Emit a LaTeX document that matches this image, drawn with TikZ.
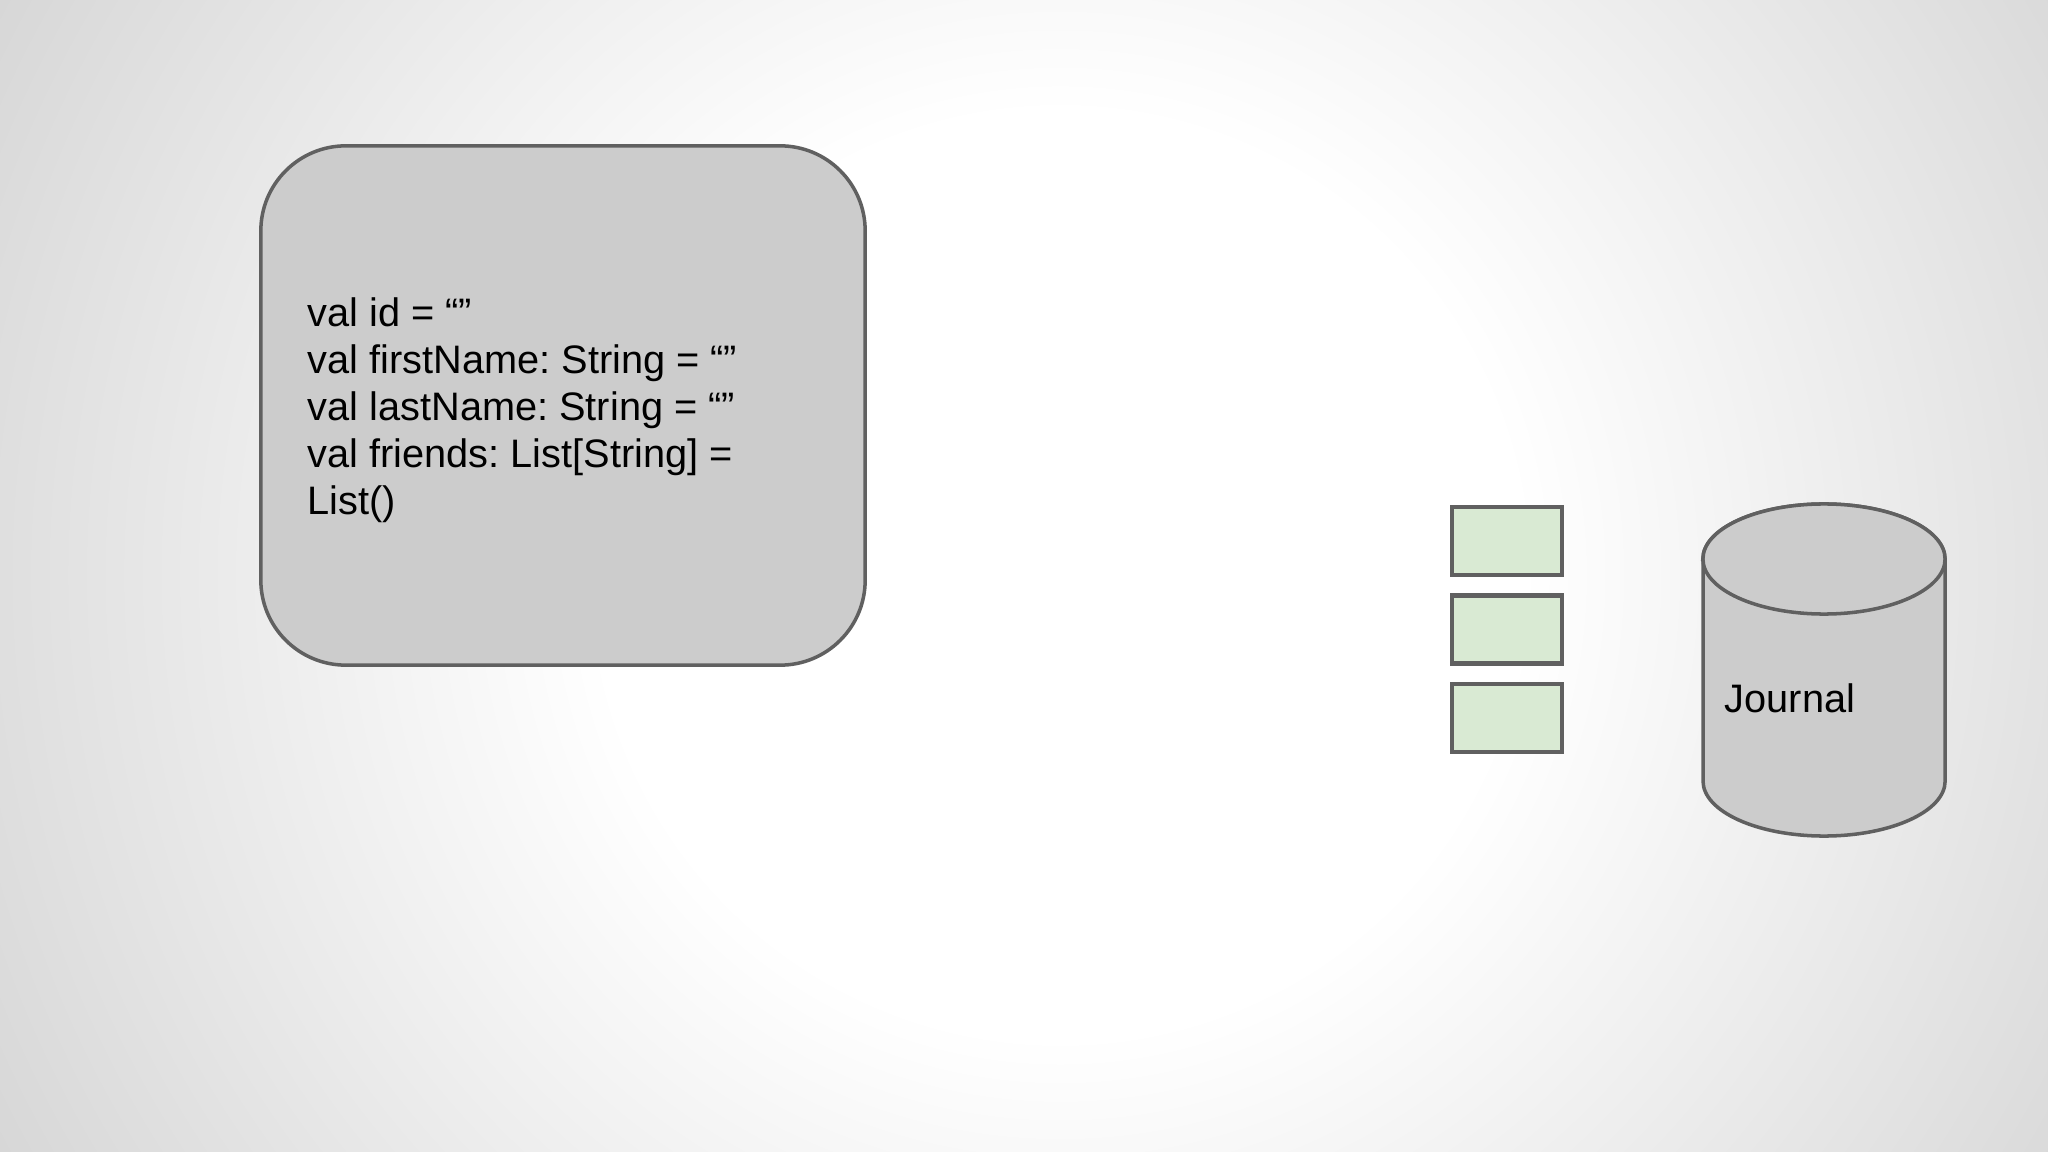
\documentclass[tikz,border=0pt]{standalone}
\usepackage{fontspec}
\setmainfont{Liberation Sans}
\frenchspacing
\definecolor{bgedge}{HTML}{D3D3D3}
\definecolor{linegray}{HTML}{606060}
\definecolor{boxgray}{HTML}{CCCCCC}
\definecolor{msggreen}{HTML}{D9EAD3}
\pgfdeclareradialshading{bgshade}{\pgfpoint{0bp}{0bp}}{color(0bp)=(white); color(9bp)=(white); color(25bp)=(bgedge); color(50bp)=(bgedge)}
\tikzset{
  entitybox/.style={draw=linegray, line width=1pt, fill=boxgray, rounded corners=0.85cm, minimum width=6.04cm, minimum height=5.19cm, inner sep=0pt},
  msgbox/.style={draw=linegray, line width=1.2pt, fill=msggreen, minimum width=1.1cm, minimum height=0.68cm, inner sep=0pt},
  codetext/.style={font=\fontsize{11.3pt}{13.4pt}\selectfont, align=left, inner sep=0pt, anchor=base west},
  cyl/.style={draw=linegray, line width=1pt, fill=boxgray}
}
\begin{document}
\begin{tikzpicture}[x=0.01cm, y=-0.01cm]
\useasboundingbox (0,0) rectangle (2048,1152);
\clip (0,0) rectangle (2048,1152);
\fill[bgedge] (0,0) rectangle (2048,1152);
\shade[shading=bgshade] (1060,575) circle [radius=12.8cm];

\node[entitybox] (entity) at (563,405.5) {};
\node[codetext] (code) at (307,514.5) {val id = “”\\val firstName: String = “”\\val lastName: String = “”\\val friends: List[String] =\\List()};

\node[msgbox] (m1) at (1507,541) {};
\node[msgbox] (m2) at (1507,629.5) {};
\node[msgbox] (m3) at (1507,718) {};

\draw[cyl] (1703,559) -- (1703,781) arc[start angle=180, end angle=360, x radius=1.21cm, y radius=0.55cm] -- (1945,559) arc[start angle=0, end angle=180, x radius=1.21cm, y radius=0.55cm] -- cycle;
\draw[cyl] (1824,559) ellipse [x radius=1.21cm, y radius=0.55cm];
\node[codetext] (journal) at (1724,712) {Journal};
\end{tikzpicture}
\end{document}
